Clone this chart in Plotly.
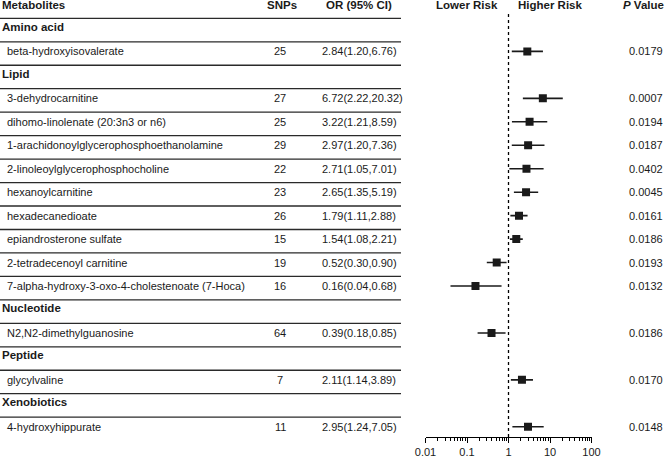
import plotly.graph_objects as go

# data
categories = ["Amino acid", "Lipid", "Nucleotide", "Peptide", "Xenobiotics"]
category_of = ["Amino acid"] + ["Lipid"] * 9 + ["Nucleotide", "Peptide", "Xenobiotics"]
metabolites = [
    "beta-hydroxyisovalerate",
    "3-dehydrocarnitine",
    "dihomo-linolenate (20:3n3 or n6)",
    "1-arachidonoylglycerophosphoethanolamine",
    "2-linoleoylglycerophosphocholine",
    "hexanoylcarnitine",
    "hexadecanedioate",
    "epiandrosterone sulfate",
    "2-tetradecenoyl carnitine",
    "7-alpha-hydroxy-3-oxo-4-cholestenoate (7-Hoca)",
    "N2,N2-dimethylguanosine",
    "glycylvaline",
    "4-hydroxyhippurate",
]
snps = [25, 27, 25, 29, 22, 23, 26, 15, 19, 16, 64, 7, 11]
odds = [2.84, 6.72, 3.22, 2.97, 2.71, 2.65, 1.79, 1.54, 0.52, 0.16, 0.39, 2.11, 2.95]
ci_low = [1.20, 2.22, 1.21, 1.20, 1.05, 1.35, 1.11, 1.08, 0.30, 0.04, 0.18, 1.14, 1.24]
ci_high = [6.76, 20.32, 8.59, 7.36, 7.01, 5.19, 2.88, 2.21, 0.90, 0.68, 0.85, 3.89, 7.05]
pvals = ["0.0179", "0.0007", "0.0194", "0.0187", "0.0402", "0.0045", "0.0161",
         "0.0186", "0.0193", "0.0132", "0.0186", "0.0170", "0.0148"]
x_ticks = [0.01, 0.1, 1, 10, 100]

W, H = 669, 457
ROW_H = 23.46
TOP = 4.5
AXIS_PX = 437
FONT = "Liberation Sans, Arial, sans-serif"
TXT = "#1a1a1a"

# build table rows: category header followed by its metabolites
rows = []
for cat in categories:
    rows.append(("cat", cat, None))
    for i, c in enumerate(category_of):
        if c == cat:
            rows.append(("item", metabolites[i], i))

def px(p):
    return p / W

annotations = []
def add_text(x, y, text, anchor="left", bold=False):
    annotations.append(dict(
        x=px(x), y=y, xref="paper", yref="y", text=f"<b>{text}</b>" if bold else text,
        showarrow=False, xanchor=anchor, yanchor="middle",
        font=dict(family=FONT, size=11.5 if bold else 11, color=TXT),
    ))

# header row (row 0)
add_text(0, 0, "Metabolites", bold=True)
add_text(282, 0, "SNPs", anchor="center", bold=True)
add_text(324, 0, "OR (95% CI)", bold=True)
add_text(467, 0, "Lower Risk", anchor="center", bold=True)
add_text(550, 0, "Higher Risk", anchor="center", bold=True)
add_text(621, 0, "<i>P</i> Value", bold=True)

ys, xs, ep, em = [], [], [], []
for k, (kind, label, i) in enumerate(rows, start=1):
    if kind == "cat":
        add_text(0, k - 0.05, label, bold=True)
        continue
    add_text(5, k, label)
    add_text(280, k, str(snps[i]), anchor="center")
    add_text(320, k, f"{odds[i]:.2f}({ci_low[i]:.2f},{ci_high[i]:.2f})")
    add_text(646, k, pvals[i], anchor="center")
    ys.append(k)
    xs.append(odds[i])
    ep.append(ci_high[i] - odds[i])
    em.append(odds[i] - ci_low[i])

n_rows = len(rows) + 1
shapes = []
for k in range(n_rows):
    shapes.append(dict(type="line", xref="paper", yref="y", x0=0, x1=px(401),
                       y0=k + 0.59, y1=k + 0.59, line=dict(color="#2a2a2a", width=1.3)))
shapes.append(dict(type="line", xref="x", yref="paper", x0=1, x1=1,
                   y0=(H - AXIS_PX) / H, y1=(H - 13) / H,
                   line=dict(color="black", width=1.3, dash="dot")))

fig = go.Figure(go.Scatter(
    x=xs, y=ys, mode="markers",
    marker=dict(symbol="square", size=8, color="#1a1a1a"),
    error_x=dict(type="data", symmetric=False, array=ep, arrayminus=em,
                 color="#1a1a1a", thickness=1.6, width=0),
    hoverinfo="skip",
))

y_top = (0 - TOP) / ROW_H
y_bot = (AXIS_PX - TOP) / ROW_H
fig.update_xaxes(
    type="log", range=[-2, 2], domain=[px(425.5), px(591.5)],
    automargin=False,
    tickmode="array", tickvals=x_ticks, ticktext=[str(t) for t in x_ticks],
    ticks="outside", ticklen=5, tickwidth=1, tickcolor="black",
    showline=True, linecolor="black", linewidth=1,
    showgrid=False, zeroline=False,
    minor=dict(ticks="outside", ticklen=3, tickcolor="black", dtick="D1", showgrid=False),
    tickfont=dict(family=FONT, size=11, color=TXT),
)
fig.update_yaxes(
    range=[y_bot, y_top], domain=[(H - AXIS_PX) / H, 1],
    automargin=False, visible=False, showgrid=False, zeroline=False,
)
fig.update_layout(
    width=W, height=H,
    margin=dict(l=0, r=0, t=0, b=0, pad=0),
    plot_bgcolor="white", paper_bgcolor="white",
    showlegend=False,
    hovermode=False,
    annotations=annotations,
    shapes=shapes,
)
# drop the browser's default page margin so the figure sits at the window corner
fig.write_html(
    "out.html",
    config={"displayModeBar": False},
    post_script="document.body.style.margin='0';",
)
